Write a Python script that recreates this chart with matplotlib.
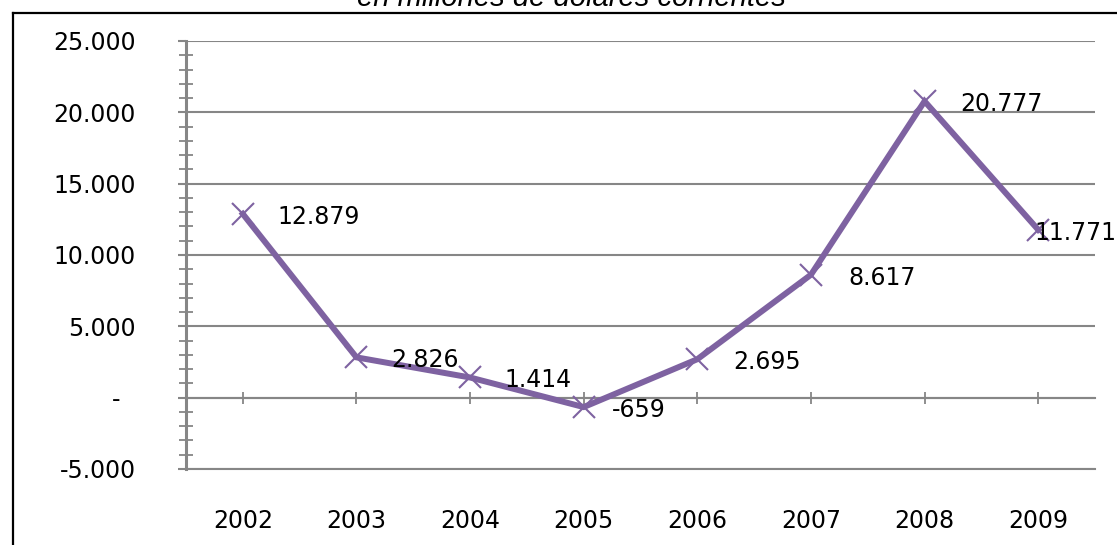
import matplotlib
matplotlib.use("Agg")
import matplotlib.pyplot as plt
from matplotlib.ticker import FixedLocator, MultipleLocator, FuncFormatter
from matplotlib.lines import Line2D

years = ["2002", "2003", "2004", "2005", "2006", "2007", "2008", "2009"]
values = [12879, 2826, 1414, -659, 2695, 8617, 20777, 11771]
label_dx = [25, 25, 25, 20, 26, 27, 26, -3]   # points
y_ticks = [-5000, 0, 5000, 10000, 15000, 20000, 25000]

W, H, DPI = 1117, 545, 100
fig = plt.figure(figsize=(W / DPI, H / DPI), dpi=DPI)
fig.patch.set_facecolor("white")

left, right, top, bottom = 186, 1095, 41, 469
ax = fig.add_axes([left / W, 1 - bottom / H, (right - left) / W, (bottom - top) / H])

grey = "#868686"
purple = "#7E62A1"

def fmt(v, pos=None):
    if v == 0:
        return "-  "
    s = f"{abs(int(v)):,}".replace(",", ".")
    return ("-" if v < 0 else "") + s

x = list(range(len(years)))
ax.plot(x, values, color=purple, lw=4.3, marker="x", ms=16, mew=1.5,
        mec=purple, solid_joinstyle="miter", zorder=5, clip_on=False)

for xi, v, dx in zip(x, values, label_dx):
    ax.annotate(fmt(v) if v != 0 else "-", (xi, v), xytext=(dx, -2),
                textcoords="offset points", ha="left", va="center",
                fontsize=17, family="DejaVu Sans", color="black",
                zorder=6, annotation_clip=False)

ax.set_xlim(-0.5, len(years) - 0.5)
ax.set_ylim(-5000, 25000)

ax.yaxis.set_major_locator(FixedLocator(y_ticks))
ax.yaxis.set_minor_locator(MultipleLocator(1000))
ax.yaxis.set_major_formatter(FuncFormatter(fmt))
ax.grid(axis="y", which="major", color=grey, lw=1.5)
ax.set_axisbelow(True)

ax.spines["right"].set_visible(False)
ax.spines["left"].set_color(grey)
ax.spines["left"].set_linewidth(2.2)
ax.spines["bottom"].set_color(grey)
ax.spines["bottom"].set_linewidth(1.5)
ax.spines["top"].set_position(("data", 0))
ax.spines["top"].set_color(grey)
ax.spines["top"].set_linewidth(1.5)

ax.set_xticks(x)
ax.set_xticklabels(years)
ax.tick_params(axis="x", bottom=False, top=True, labelbottom=True, labeltop=False,
               direction="inout", length=8, width=1.3, color=grey,
               labelsize=17, pad=24.5)
ax.tick_params(axis="y", which="major", direction="out", length=6, width=1.5,
               color=grey, labelsize=17, pad=30)
ax.tick_params(axis="y", which="minor", direction="inout", length=10, width=1.3,
               color=grey)
for lab in ax.get_xticklabels() + ax.get_yticklabels():
    lab.set_family("DejaVu Sans")

# outer chart border
fig.add_artist(Line2D([13 / W, 13 / W], [0, 1 - 13 / H], color="black", lw=1.6))
fig.add_artist(Line2D([13 / W, 1], [1 - 13 / H, 1 - 13 / H], color="black", lw=1.6))

fig.text(571 / W, 1 - 6 / H, "en millones de dólares corrientes", ha="center",
         va="baseline", fontsize=21, style="italic", family="Liberation Sans")

fig.savefig("out.png", dpi=DPI)
